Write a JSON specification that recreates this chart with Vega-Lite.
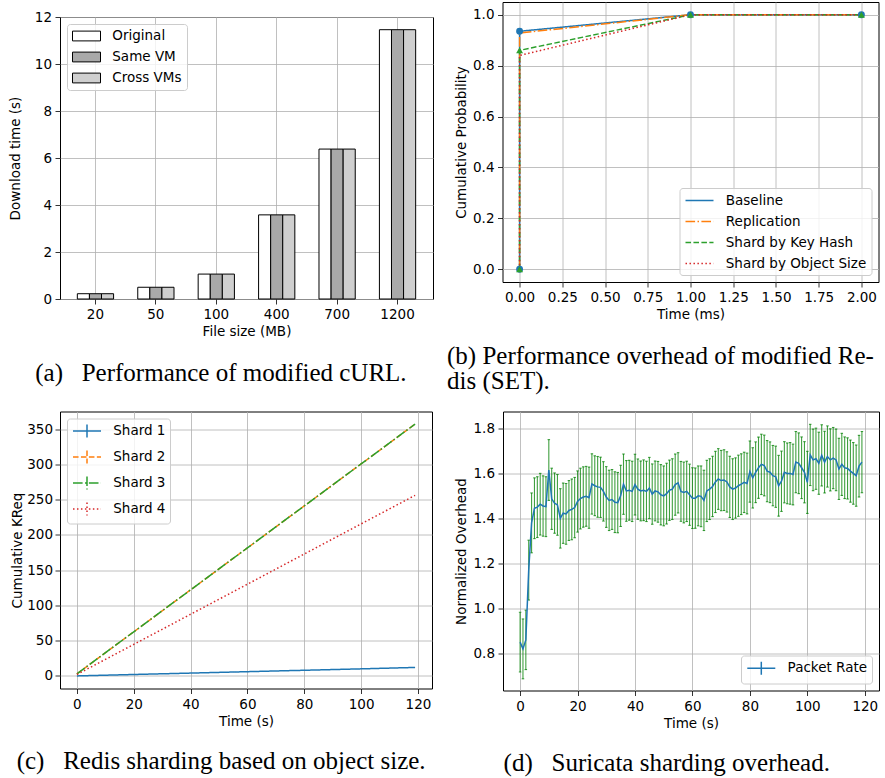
{
  "$schema": "https://vega.github.io/schema/vega-lite/v6.json",
  "background": "white",
  "padding": {"left": 8, "top": 1, "right": 0, "bottom": 0},
  "config": {
    "font": "DejaVu Sans",
    "view": {"stroke": "#000", "strokeWidth": 1},
    "axis": {
      "grid": true, "gridColor": "#b0b0b0", "gridWidth": 0.8, "domain": false,
      "tickColor": "#000", "tickSize": 5, "tickWidth": 0.8,
      "labelFont": "DejaVu Sans", "labelFontSize": 13.5, "labelColor": "#000", "labelPadding": 3.5,
      "labelFlush": false, "labelOverlap": false,
      "titleFont": "DejaVu Sans", "titleFontSize": 13.5, "titleFontWeight": "normal", "titleColor": "#000"
    },
    "axisX": {"titlePadding": 3.5},
    "axisY": {"titlePadding": 4.5},
    "legend": {
      "labelFont": "DejaVu Sans", "labelFontSize": 13.5, "labelColor": "#000", "labelLimit": 400,
      "fillColor": "rgba(255,255,255,0.8)", "strokeColor": "#cccccc", "cornerRadius": 3,
      "padding": 4.5, "symbolOffset": 7.5, "labelOffset": 18.3, "rowPadding": 6, "symbolSize": 196
    },
    "title": {"font": "Liberation Serif", "fontSize": 25, "fontWeight": "normal", "color": "#000"}
  },
  "resolve": {
    "scale": {"color": "independent", "strokeDash": "independent", "shape": "independent", "fill": "independent"},
    "legend": {"color": "independent", "strokeDash": "independent", "shape": "independent", "fill": "independent"}
  },
  "align": "none",
  "spacing": 15.5,
  "vconcat": [
    {
      "align": "none",
      "spacing": 12.5,
      "resolve": {
        "scale": {"color": "independent", "strokeDash": "independent", "shape": "independent", "fill": "independent"},
        "legend": {"color": "independent", "strokeDash": "independent", "shape": "independent", "fill": "independent"}
      },
      "hconcat": [
        {
          "spacing": 6,
          "resolve": {
            "scale": {"color": "independent", "fill": "independent"},
            "legend": {"color": "independent", "fill": "independent"}
          },
          "vconcat": [
            {
              "width": 1, "height": 1,
              "data": {"values": [{"k": 0}]},
              "mark": {"type": "point", "size": 0, "opacity": 0},
              "view": {"stroke": null}
            },
            {
              "width": 373, "height": 282,
              "title": {"text": "(a)\u00a0\u00a0\u00a0Performance of modified cURL.", "orient": "bottom", "anchor": "middle", "frame": "bounds", "offset": 23},
              "data": {"values": [
                {"size": "20", "series": "Original", "time": 0.225},
                {"size": "20", "series": "Same VM", "time": 0.225},
                {"size": "20", "series": "Cross VMs", "time": 0.225},
                {"size": "50", "series": "Original", "time": 0.5},
                {"size": "50", "series": "Same VM", "time": 0.5},
                {"size": "50", "series": "Cross VMs", "time": 0.5},
                {"size": "100", "series": "Original", "time": 1.06},
                {"size": "100", "series": "Same VM", "time": 1.06},
                {"size": "100", "series": "Cross VMs", "time": 1.06},
                {"size": "400", "series": "Original", "time": 3.58},
                {"size": "400", "series": "Same VM", "time": 3.58},
                {"size": "400", "series": "Cross VMs", "time": 3.58},
                {"size": "700", "series": "Original", "time": 6.38},
                {"size": "700", "series": "Same VM", "time": 6.38},
                {"size": "700", "series": "Cross VMs", "time": 6.38},
                {"size": "1200", "series": "Original", "time": 11.46},
                {"size": "1200", "series": "Same VM", "time": 11.46},
                {"size": "1200", "series": "Cross VMs", "time": 11.46}
              ]},
              "mark": {"type": "bar", "stroke": "#000", "strokeWidth": 1},
              "encoding": {
                "x": {"field": "size", "type": "nominal", "sort": ["20", "50", "100", "400", "700", "1200"],
                      "scale": {"paddingInner": 0.4, "paddingOuter": 0.287},
                      "axis": {"title": "File size (MB)", "labelAngle": 0, "bandPosition": 0.5}},
                "xOffset": {"field": "series", "type": "nominal", "sort": ["Original", "Same VM", "Cross VMs"],
                            "scale": {"paddingInner": 0, "paddingOuter": 0}},
                "y": {"field": "time", "type": "quantitative", "scale": {"domain": [0, 12], "nice": false},
                      "axis": {"title": "Download time (s)", "values": [0, 2, 4, 6, 8, 10, 12], "titlePadding": 11.5}},
                "fill": {"field": "series", "type": "nominal",
                         "scale": {"domain": ["Original", "Same VM", "Cross VMs"], "range": ["#ffffff", "#a9a9a9", "#cfcfcf"]},
                         "legend": {"title": null, "orient": "top-left", "offset": 6.5,
                                    "symbolType": "M-2,-0.7H2V0.7H-2Z", "symbolStrokeColor": "#000", "symbolStrokeWidth": 1}}
              }
            }
          ]
        },
        {
          "width": 376, "height": 280,
          "title": {"text": ["(b) Performance overhead of modified Re-", "dis (SET)."], "orient": "bottom", "anchor": "start", "frame": "bounds", "offset": 23, "dx": -7, "lineHeight": 25, "align": "left"},
          "data": {"values": [
            {"series": "Baseline", "i": 0, "t": 0, "p": 0}, {"series": "Baseline", "i": 1, "t": 0, "p": 0.935},
            {"series": "Baseline", "i": 2, "t": 1, "p": 1}, {"series": "Baseline", "i": 3, "t": 2, "p": 1},
            {"series": "Replication", "i": 0, "t": 0, "p": 0}, {"series": "Replication", "i": 1, "t": 0, "p": 0.928},
            {"series": "Replication", "i": 2, "t": 1, "p": 1}, {"series": "Replication", "i": 3, "t": 2, "p": 1},
            {"series": "Shard by Key Hash", "i": 0, "t": 0, "p": 0}, {"series": "Shard by Key Hash", "i": 1, "t": 0, "p": 0.86},
            {"series": "Shard by Key Hash", "i": 2, "t": 1, "p": 1}, {"series": "Shard by Key Hash", "i": 3, "t": 2, "p": 1},
            {"series": "Shard by Object Size", "i": 0, "t": 0, "p": 0}, {"series": "Shard by Object Size", "i": 1, "t": 0, "p": 0.84},
            {"series": "Shard by Object Size", "i": 2, "t": 1, "p": 1}, {"series": "Shard by Object Size", "i": 3, "t": 2, "p": 1}
          ]},
          "encoding": {
            "x": {"field": "t", "type": "quantitative", "scale": {"domain": [-0.1, 2.1], "nice": false, "zero": false},
                  "axis": {"title": "Time (ms)", "values": [0, 0.25, 0.5, 0.75, 1, 1.25, 1.5, 1.75, 2], "format": ".2f"}},
            "y": {"field": "p", "type": "quantitative", "scale": {"domain": [-0.05, 1.05], "nice": false, "zero": false},
                  "axis": {"title": "Cumulative Probability", "values": [0, 0.2, 0.4, 0.6, 0.8, 1], "format": ".1f"}}
          },
          "layer": [
            {
              "mark": {"type": "line", "strokeWidth": 1.5},
              "encoding": {
                "order": {"field": "i", "type": "quantitative"},
                "strokeDash": {"field": "series", "type": "nominal",
                               "scale": {"domain": ["Baseline", "Replication", "Shard by Key Hash", "Shard by Object Size"], "range": [[1, 0], [9.6, 2.4, 1.5, 2.4], [5.55, 2.4], [1.5, 2.475]]},
                               "legend": {"title": null, "orient": "bottom-right", "offset": 7, "symbolType": "M-2,0H2", "symbolStrokeWidth": 1.5}},
                "color": {"field": "series", "type": "nominal",
                          "scale": {"domain": ["Baseline", "Replication", "Shard by Key Hash", "Shard by Object Size"], "range": ["#1f77b4", "#ff7f0e", "#2ca02c", "#d62728"]},
                          "legend": {"title": null, "orient": "bottom-right", "offset": 7, "symbolType": "M-2,0H2", "symbolStrokeWidth": 1.5}}
              }
            },
            {
              "transform": [{"filter": {"field": "series", "oneOf": ["Baseline", "Shard by Key Hash"]}}],
              "mark": {"type": "point", "filled": true, "opacity": 1, "size": 48},
              "encoding": {
                "color": {"field": "series", "type": "nominal", "legend": null},
                "shape": {"field": "series", "type": "nominal",
                          "scale": {"domain": ["Baseline", "Shard by Key Hash"], "range": ["circle", "triangle-up"]},
                          "legend": null}
              }
            }
          ]
        }
      ]
    },
    {
      "spacing": 21,
      "resolve": {
        "scale": {"color": "independent", "strokeDash": "independent", "shape": "independent", "fill": "independent"},
        "legend": {"color": "independent", "strokeDash": "independent", "shape": "independent", "fill": "independent"}
      },
      "hconcat": [
        {
          "width": 372, "height": 277,
          "title": {"text": "(c)\u00a0\u00a0\u00a0Redis sharding based on object size.", "orient": "bottom", "anchor": "middle", "frame": "bounds", "offset": 21.5},
          "data": {"values": [
            {"series": "Shard 1", "t": 0, "v": 0}, {"series": "Shard 1", "t": 20, "v": 2}, {"series": "Shard 1", "t": 40, "v": 4},
            {"series": "Shard 1", "t": 60, "v": 6}, {"series": "Shard 1", "t": 80, "v": 8}, {"series": "Shard 1", "t": 100, "v": 10},
            {"series": "Shard 1", "t": 119, "v": 12},
            {"series": "Shard 2", "t": 0, "v": 3}, {"series": "Shard 2", "t": 20, "v": 62.5}, {"series": "Shard 2", "t": 40, "v": 122},
            {"series": "Shard 2", "t": 60, "v": 181.5}, {"series": "Shard 2", "t": 80, "v": 241}, {"series": "Shard 2", "t": 100, "v": 300.5},
            {"series": "Shard 2", "t": 119, "v": 357},
            {"series": "Shard 3", "t": 0, "v": 3}, {"series": "Shard 3", "t": 20, "v": 62.5}, {"series": "Shard 3", "t": 40, "v": 122},
            {"series": "Shard 3", "t": 60, "v": 181.5}, {"series": "Shard 3", "t": 80, "v": 241}, {"series": "Shard 3", "t": 100, "v": 300.5},
            {"series": "Shard 3", "t": 119, "v": 357},
            {"series": "Shard 4", "t": 0, "v": 2}, {"series": "Shard 4", "t": 20, "v": 44.7}, {"series": "Shard 4", "t": 40, "v": 87.4},
            {"series": "Shard 4", "t": 60, "v": 130}, {"series": "Shard 4", "t": 80, "v": 172.8}, {"series": "Shard 4", "t": 100, "v": 215.5},
            {"series": "Shard 4", "t": 119, "v": 256}
          ]},
          "mark": {"type": "line", "strokeWidth": 1.5},
          "encoding": {
            "x": {"field": "t", "type": "quantitative", "scale": {"domain": [-5.95, 124.95], "nice": false, "zero": false},
                  "axis": {"title": "Time (s)", "values": [0, 20, 40, 60, 80, 100, 120]}},
            "y": {"field": "v", "type": "quantitative", "scale": {"domain": [-17.85, 374.85], "nice": false, "zero": false},
                  "axis": {"title": "Cumulative KReq", "values": [0, 50, 100, 150, 200, 250, 300, 350], "titlePadding": 2.5, "labelPadding": 2.5}},
            "strokeDash": {"field": "series", "type": "nominal",
                           "scale": {"domain": ["Shard 1", "Shard 2", "Shard 3", "Shard 4"], "range": [[1, 0], [5.55, 2.4], [9.6, 2.4, 1.5, 2.4], [1.5, 2.475]]},
                           "legend": {"title": null, "orient": "top-left", "offset": 6.5, "symbolType": "M-2,0H2M0,-0.93V0.93", "symbolStrokeWidth": 1.5}},
            "color": {"field": "series", "type": "nominal",
                      "scale": {"domain": ["Shard 1", "Shard 2", "Shard 3", "Shard 4"], "range": ["#1f77b4", "#ff7f0e", "#2ca02c", "#d62728"]},
                      "legend": {"title": null, "orient": "top-left", "offset": 6.5, "symbolType": "M-2,0H2M0,-0.93V0.93", "symbolStrokeWidth": 1.5}}
          }
        },
        {
          "width": 376, "height": 279,
          "title": {"text": "(d)\u00a0\u00a0\u00a0Suricata sharding overhead.", "orient": "bottom", "anchor": "middle", "frame": "bounds", "offset": 21.5},
          "data": {"values": [
            {"t": 0, "m": 0.85, "e": 0.133}, {"t": 1, "m": 0.82, "e": 0.133}, {"t": 2, "m": 0.86, "e": 0.132}, {"t": 3, "m": 1.17, "e": 0.133},
            {"t": 4, "m": 1.38, "e": 0.133}, {"t": 5, "m": 1.445, "e": 0.135}, {"t": 6, "m": 1.45, "e": 0.135}, {"t": 7, "m": 1.463, "e": 0.137},
            {"t": 8, "m": 1.455, "e": 0.134}, {"t": 9, "m": 1.452, "e": 0.133}, {"t": 10, "m": 1.615, "e": 0.135}, {"t": 11, "m": 1.487, "e": 0.136},
            {"t": 12, "m": 1.468, "e": 0.134}, {"t": 13, "m": 1.46, "e": 0.135}, {"t": 14, "m": 1.4, "e": 0.132}, {"t": 15, "m": 1.423, "e": 0.134},
            {"t": 16, "m": 1.42, "e": 0.135}, {"t": 17, "m": 1.435, "e": 0.133}, {"t": 18, "m": 1.44, "e": 0.135}, {"t": 19, "m": 1.448, "e": 0.134},
            {"t": 20, "m": 1.475, "e": 0.136}, {"t": 21, "m": 1.488, "e": 0.135}, {"t": 22, "m": 1.495, "e": 0.134}, {"t": 23, "m": 1.498, "e": 0.133},
            {"t": 24, "m": 1.492, "e": 0.136}, {"t": 25, "m": 1.553, "e": 0.134}, {"t": 26, "m": 1.545, "e": 0.133}, {"t": 27, "m": 1.54, "e": 0.135},
            {"t": 28, "m": 1.538, "e": 0.134}, {"t": 29, "m": 1.52, "e": 0.132}, {"t": 30, "m": 1.495, "e": 0.135}, {"t": 31, "m": 1.48, "e": 0.134},
            {"t": 32, "m": 1.484, "e": 0.133}, {"t": 33, "m": 1.472, "e": 0.135}, {"t": 34, "m": 1.47, "e": 0.134}, {"t": 35, "m": 1.5, "e": 0.136},
            {"t": 36, "m": 1.552, "e": 0.134}, {"t": 37, "m": 1.522, "e": 0.135}, {"t": 38, "m": 1.525, "e": 0.133}, {"t": 39, "m": 1.52, "e": 0.134},
            {"t": 40, "m": 1.55, "e": 0.135}, {"t": 41, "m": 1.53, "e": 0.134}, {"t": 42, "m": 1.522, "e": 0.133}, {"t": 43, "m": 1.525, "e": 0.135},
            {"t": 44, "m": 1.52, "e": 0.134}, {"t": 45, "m": 1.535, "e": 0.136}, {"t": 46, "m": 1.508, "e": 0.134}, {"t": 47, "m": 1.522, "e": 0.133},
            {"t": 48, "m": 1.518, "e": 0.135}, {"t": 49, "m": 1.505, "e": 0.134}, {"t": 50, "m": 1.5, "e": 0.133}, {"t": 51, "m": 1.51, "e": 0.135},
            {"t": 52, "m": 1.525, "e": 0.134}, {"t": 53, "m": 1.53, "e": 0.135}, {"t": 54, "m": 1.55, "e": 0.136}, {"t": 55, "m": 1.558, "e": 0.134},
            {"t": 56, "m": 1.52, "e": 0.133}, {"t": 57, "m": 1.515, "e": 0.135}, {"t": 58, "m": 1.52, "e": 0.134}, {"t": 59, "m": 1.505, "e": 0.136},
            {"t": 60, "m": 1.49, "e": 0.135}, {"t": 61, "m": 1.49, "e": 0.134}, {"t": 62, "m": 1.5, "e": 0.133}, {"t": 63, "m": 1.498, "e": 0.135},
            {"t": 64, "m": 1.48, "e": 0.134}, {"t": 65, "m": 1.522, "e": 0.136}, {"t": 66, "m": 1.53, "e": 0.135}, {"t": 67, "m": 1.542, "e": 0.134},
            {"t": 68, "m": 1.562, "e": 0.136}, {"t": 69, "m": 1.575, "e": 0.135}, {"t": 70, "m": 1.568, "e": 0.134}, {"t": 71, "m": 1.57, "e": 0.135},
            {"t": 72, "m": 1.562, "e": 0.134}, {"t": 73, "m": 1.54, "e": 0.136}, {"t": 74, "m": 1.53, "e": 0.135}, {"t": 75, "m": 1.535, "e": 0.134},
            {"t": 76, "m": 1.545, "e": 0.136}, {"t": 77, "m": 1.552, "e": 0.135}, {"t": 78, "m": 1.56, "e": 0.134}, {"t": 79, "m": 1.555, "e": 0.135},
            {"t": 80, "m": 1.608, "e": 0.136}, {"t": 81, "m": 1.58, "e": 0.134}, {"t": 82, "m": 1.605, "e": 0.135}, {"t": 83, "m": 1.625, "e": 0.136},
            {"t": 84, "m": 1.64, "e": 0.134}, {"t": 85, "m": 1.635, "e": 0.135}, {"t": 86, "m": 1.61, "e": 0.136}, {"t": 87, "m": 1.605, "e": 0.135},
            {"t": 88, "m": 1.59, "e": 0.134}, {"t": 89, "m": 1.585, "e": 0.136}, {"t": 90, "m": 1.545, "e": 0.135}, {"t": 91, "m": 1.565, "e": 0.134},
            {"t": 92, "m": 1.605, "e": 0.136}, {"t": 93, "m": 1.6, "e": 0.135}, {"t": 94, "m": 1.6, "e": 0.137}, {"t": 95, "m": 1.595, "e": 0.135},
            {"t": 96, "m": 1.65, "e": 0.136}, {"t": 97, "m": 1.645, "e": 0.135}, {"t": 98, "m": 1.625, "e": 0.137}, {"t": 99, "m": 1.605, "e": 0.136},
            {"t": 100, "m": 1.56, "e": 0.138}, {"t": 101, "m": 1.682, "e": 0.136}, {"t": 102, "m": 1.66, "e": 0.137}, {"t": 103, "m": 1.665, "e": 0.136},
            {"t": 104, "m": 1.645, "e": 0.138}, {"t": 105, "m": 1.68, "e": 0.136}, {"t": 106, "m": 1.65, "e": 0.137}, {"t": 107, "m": 1.675, "e": 0.136},
            {"t": 108, "m": 1.66, "e": 0.138}, {"t": 109, "m": 1.668, "e": 0.136}, {"t": 110, "m": 1.66, "e": 0.137}, {"t": 111, "m": 1.62, "e": 0.136},
            {"t": 112, "m": 1.64, "e": 0.138}, {"t": 113, "m": 1.625, "e": 0.137}, {"t": 114, "m": 1.622, "e": 0.136}, {"t": 115, "m": 1.61, "e": 0.138},
            {"t": 116, "m": 1.6, "e": 0.137}, {"t": 117, "m": 1.59, "e": 0.136}, {"t": 118, "m": 1.632, "e": 0.137}, {"t": 119, "m": 1.65, "e": 0.136}
          ]},
          "layer": [
            {
              "mark": {"type": "errorbar", "color": "#008000", "opacity": 0.75, "thickness": 1.1, "ticks": {"size": 2.5}},
              "encoding": {
                "x": {"field": "t", "type": "quantitative", "scale": {"domain": [-5.95, 124.95], "nice": false, "zero": false},
                      "axis": {"title": "Time (s)", "values": [0, 20, 40, 60, 80, 100, 120]}},
                "y": {"field": "m", "type": "quantitative", "scale": {"domain": [0.635, 1.875], "nice": false, "zero": false},
                      "axis": {"title": "Normalized Overhead", "values": [0.8, 1.0, 1.2, 1.4, 1.6, 1.8], "format": ".1f"}},
                "yError": {"field": "e"}
              }
            },
            {
              "mark": {"type": "line", "strokeWidth": 1.5},
              "encoding": {
                "x": {"field": "t", "type": "quantitative", "scale": {"domain": [-5.95, 124.95], "nice": false, "zero": false},
                      "axis": {"title": "Time (s)", "values": [0, 20, 40, 60, 80, 100, 120]}},
                "y": {"field": "m", "type": "quantitative", "scale": {"domain": [0.635, 1.875], "nice": false, "zero": false},
                      "axis": {"title": "Normalized Overhead", "values": [0.8, 1.0, 1.2, 1.4, 1.6, 1.8], "format": ".1f"}},
                "color": {"datum": "Packet Rate", "scale": {"domain": ["Packet Rate"], "range": ["#1f77b4"]},
                          "legend": {"title": null, "orient": "bottom-right", "offset": 6.6, "padding": 4.8,
                                     "symbolType": "M-2,0H2M0,-0.93V0.93", "symbolStrokeWidth": 1.5}}
              }
            }
          ]
        }
      ]
    }
  ]
}
